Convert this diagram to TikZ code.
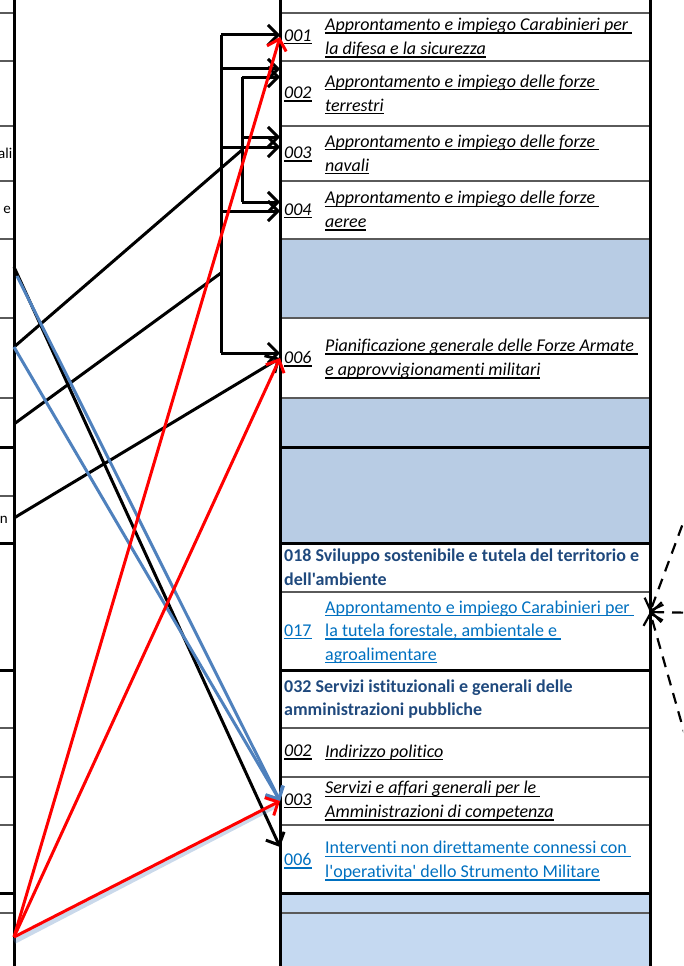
\documentclass[tikz,border=0pt]{standalone}
\usepackage{fontspec}
\newfontfamily\xlfont{Carlito}[Ligatures=NoCommon]
\definecolor{CellBlue}{RGB}{184,204,228}
\definecolor{CellBlueLt}{RGB}{197,217,241}
\definecolor{HeadBlue}{RGB}{31,73,125}
\definecolor{LinkBlue}{RGB}{0,112,192}
\definecolor{LineBlue}{RGB}{79,129,189}
\definecolor{GridGray}{RGB}{90,90,90}
\usetikzlibrary{arrows.meta,positioning,calc}
\newcommand{\tabfont}{\xlfont\fontsize{18}{23.7}\selectfont}
\newcommand{\ulx}[1]{\setbox0=\hbox{#1}\rlap{\rule[-3pt]{\wd0}{1.4pt}}\box0}

\begin{document}
\begin{tikzpicture}[x=1pt,y=-1pt,
  rowcell/.style={minimum width=370pt,minimum height=#1,inner sep=0pt,outer sep=0pt,anchor=north west},
  numtxt/.style={anchor=west,inner sep=0pt,font=\tabfont\itshape},
  desctxt/.style={anchor=west,inner sep=0pt,align=left,font=\tabfont\itshape},
  linktxt/.style={anchor=west,inner sep=0pt,align=left,text=LinkBlue,font=\tabfont},
  headtxt/.style={anchor=west,inner sep=0pt,align=left,text=HeadBlue,font=\tabfont\bfseries},
  cuttxt/.style={anchor=east,inner sep=0pt,font=\xlfont\fontsize{15}{18}\selectfont},
  gridthin/.style={draw=GridGray,line width=1.2pt},
  gridthick/.style={draw=black,line width=3pt},
  arrblk/.style={line width=3pt,-{Straight Barb[length=10pt,width=20pt]}},
  arrblue/.style={LineBlue,line width=3pt,-{Straight Barb[length=10pt,width=20pt]}},
  arrred/.style={red,line width=3pt,-{Straight Barb[length=10pt,width=20pt]}},
  dasharr/.style={line width=2.2pt,dash pattern=on 11pt off 8pt,-{Straight Barb[length=10pt,width=20pt]}}]
  \useasboundingbox (0,0) rectangle (683,966);
  \clip (0,0) rectangle (683,966);

  \fill[CellBlue] (280,239) rectangle (650,318);
  \fill[CellBlue] (280,398) rectangle (650,543);
  \fill[CellBlueLt] (280,893) rectangle (650,966);
  \foreach \y in {13,61,126,181,239,318,398,592,728,777,825,913}
    \draw[gridthin] (280,\y) -- (650,\y);
  \foreach \y in {13,61,126,181,239,318,398,496,728,777,825,913}
    \draw[gridthin] (0,\y) -- (14,\y);
  \foreach \y in {447,543,670,893}
    \draw[gridthick] (280,\y) -- (650,\y) (0,\y) -- (14,\y);
  \foreach \x in {14,280,650}
    \draw[gridthick] (\x,0) -- (\x,966);

  \node[cuttxt] (lt1) at (12.5,153) {ali};
  \node[cuttxt] (lt2) at (11,210) {e};
  \node[cuttxt] (lt3) at (8,520) {n};

  \node[rowcell=48pt] (r001) at (280,13) {};
  \node[rowcell=65pt] (r002) at (280,61) {};
  \node[rowcell=55pt] (r003) at (280,126) {};
  \node[rowcell=58pt] (r004) at (280,181) {};
  \node[rowcell=80pt] (r006) at (280,318) {};
  \node[rowcell=49pt] (r018) at (280,543) {};
  \node[rowcell=78pt] (r017) at (280,592) {};
  \node[rowcell=58pt] (r032) at (280,670) {};
  \node[rowcell=49pt] (r002p) at (280,728) {};
  \node[rowcell=48pt] (r003s) at (280,777) {};
  \node[rowcell=68pt] (r006i) at (280,825) {};

  \node[numtxt] (n001) at ([xshift=4pt]r001.west) {\ulx{001}};
  \node[desctxt] (d001) at ([xshift=45pt,yshift=-1pt]r001.west)
    {\ulx{Approntamento e impiego Carabinieri per\ }\\\ulx{la difesa e la sicurezza}};
  \node[numtxt] (n002) at ([xshift=4pt,yshift=-1pt]r002.west) {\ulx{002}};
  \node[desctxt] (d002) at ([xshift=45pt,yshift=-1pt]r002.west)
    {\ulx{Approntamento e impiego delle forze\ }\\\ulx{terrestri}};
  \node[numtxt] (n003) at ([xshift=4pt,yshift=-1pt]r003.west) {\ulx{003}};
  \node[desctxt] (d003) at ([xshift=45pt,yshift=-1pt]r003.west)
    {\ulx{Approntamento e impiego delle forze\ }\\\ulx{navali}};
  \node[numtxt] (n004) at ([xshift=4pt,yshift=-1pt]r004.west) {\ulx{004}};
  \node[desctxt] (d004) at ([xshift=45pt,yshift=-1pt]r004.west)
    {\ulx{Approntamento e impiego delle forze\ }\\\ulx{aeree}};
  \node[numtxt] (n006) at ([xshift=4pt,yshift=-1pt]r006.west) {\ulx{006}};
  \node[desctxt] (d006) at ([xshift=45pt,yshift=-1pt]r006.west)
    {\ulx{Pianificazione generale delle Forze Armate\ }\\\ulx{e approvvigionamenti militari}};
  \node[headtxt] (h018) at ([xshift=4pt]r018.west)
    {018 Sviluppo sostenibile e tutela del territorio e\\dell'ambiente};
  \node[numtxt,text=LinkBlue,font=\tabfont] (n017) at ([xshift=4pt,yshift=-1pt]r017.west) {\ulx{017}};
  \node[linktxt] (d017) at ([xshift=45pt,yshift=-1pt]r017.west)
    {\ulx{Approntamento e impiego Carabinieri per\ }\\\ulx{la tutela forestale, ambientale e\ }\\\ulx{agroalimentare}};
  \node[headtxt] (h032) at ([xshift=4pt]r032.west)
    {032 Servizi istituzionali e generali delle\\amministrazioni pubbliche};
  \node[numtxt] (n002p) at ([xshift=4pt]r002p.west) {\ulx{002}};
  \node[desctxt] (d002p) at ([xshift=45pt]r002p.west) {\ulx{Indirizzo politico}};
  \node[numtxt] (n003s) at ([xshift=4pt]r003s.west) {\ulx{003}};
  \node[desctxt] (d003s) at ([xshift=45pt]r003s.west)
    {\ulx{Servizi e affari generali per le\ }\\\ulx{Amministrazioni di competenza}};
  \node[numtxt,text=LinkBlue,font=\tabfont] (n006i) at ([xshift=4pt,yshift=-2pt]r006i.west) {\ulx{006}};
  \node[linktxt] (d006i) at ([xshift=45pt,yshift=-2pt]r006i.west)
    {\ulx{Interventi non direttamente connessi con\ }\\\ulx{l'operativita' dello Strumento Militare}};

  \coordinate (s1) at (14,267);
  \coordinate (s1b) at (17,276);
  \coordinate (s2) at (14,347);
  \coordinate (s3) at (14,424);
  \coordinate (s4) at (14,518);
  \coordinate (s5) at (14,937);
  \coordinate (ja) at (221,273);
  \coordinate (jb) at (242,150);

  \foreach \n/\r/\y in {a1/r001/35,a2/r002/69,a3/r003/147,a4/r004/211,a5/r006/353}{
    \coordinate (\n) at (221,\y);
    \draw[arrblk] (\n) -- (\n -| \r.west);
  }
  \draw[line width=3pt] (a1) -- (a5);
  \foreach \n/\r/\y in {b1/r002/77,b2/r003/137,b3/r004/202}{
    \coordinate (\n) at (242,\y);
    \draw[arrblk] (\n) -- (\n -| \r.west);
  }
  \draw[line width=3pt] (b1) -- (b3);

  \draw[line width=3pt] (s2) -- (jb);
  \draw[line width=3pt] (s3) -- (ja);
  \draw[arrblk] (s4) -- (r006.west);
  \draw[arrblk] (s1) -- ($(r006i.west)+(0,-12)$);
  \draw[arrblue] (s1b) -- (r003s.west);
  \draw[arrblue] (s2) -- (r003s.west);

  \draw[LineBlue,line width=6pt,opacity=0.3] ($(s5)+(0,4)$) -- ($(r003s.west)+(-6,5)$);
  \draw[arrred] (s5) -- (r001.west);
  \draw[arrred] (s5) -- (r006.west);
  \draw[arrred] (s5) -- (r003s.west);

  \coordinate (t017) at ($(r017.east)+(0,-19)$);
  \coordinate (o1) at (702,472);
  \coordinate (o2) at (702,613);
  \coordinate (o3) at (702,795);
  \draw[dasharr] (o1) -- (t017);
  \draw[dasharr] (o2) -- (t017);
  \draw[dasharr] (o3) -- (t017);
\end{tikzpicture}
\end{document}
